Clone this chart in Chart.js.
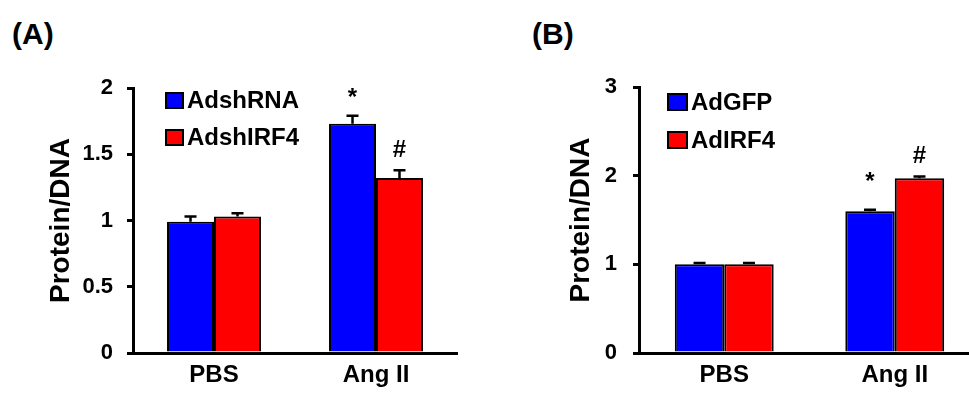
<!DOCTYPE html>
<html>
<head>
<meta charset="utf-8">
<script src="https://cdn.jsdelivr.net/npm/chart.js@4"></script>
<style>
  html, body { margin: 0; padding: 0; background: #fff; overflow: hidden; }
  body { width: 969px; height: 393px; position: relative; }
  .panel { position: absolute; top: 0; height: 393px; }
  .tag { position: absolute; top: 17px; font: bold 30px "Liberation Sans", Arial, sans-serif; color: #000; }
</style>
</head>
<body>
<div class="tag" style="left:12px">(A)</div>
<div class="tag" style="left:532px">(B)</div>
<div class="panel" style="left:0;width:480px"><canvas id="chartA"></canvas></div>
<div class="panel" style="left:480px;width:500px"><canvas id="chartB"></canvas></div>
<script>
const categories = ['PBS', 'Ang II'];

// panel A
const seriesA = ['AdshRNA', 'AdshIRF4'];
const blueA = [0.99, 1.73];
const redA = [1.03, 1.32];
const blueErrA = [0.04, 0.06];
const redErrA = [0.025, 0.06];
const blueMarksA = ['', '*'];
const redMarksA = ['', '#'];
const yMaxA = 2, yStepA = 0.5;

// panel B
const seriesB = ['AdGFP', 'AdIRF4'];
const blueB = [1.0, 1.6];
const redB = [1.0, 1.97];
const blueErrB = [0.015, 0.015];
const redErrB = [0.015, 0.02];
const blueMarksB = ['', '*'];
const redMarksB = ['', '#'];
const yMaxB = 3, yStepB = 1;

const FONT = '"Liberation Sans", Arial, sans-serif';
const BLUE = '#0000ff', RED = '#ff0000';

// error bars + significance marks
const errPlugin = {
  id: 'errbars',
  afterDatasetsDraw(chart, args, opts) {
    const ctx = chart.ctx;
    const y = chart.scales.y;
    chart.data.datasets.forEach((ds, i) => {
      const meta = chart.getDatasetMeta(i);
      meta.data.forEach((bar, j) => {
        const top = y.getPixelForValue(ds.data[j] + opts.errors[i][j]);
        ctx.save();
        ctx.strokeStyle = '#000';
        ctx.lineWidth = 2.5;
        ctx.beginPath();
        ctx.moveTo(bar.x, bar.y);
        ctx.lineTo(bar.x, top);
        ctx.moveTo(bar.x - 6, top);
        ctx.lineTo(bar.x + 6, top);
        ctx.stroke();
        const mark = opts.marks[i][j];
        if (mark) {
          ctx.fillStyle = '#000';
          ctx.font = 'bold 24px ' + FONT;
          ctx.textAlign = 'center';
          ctx.textBaseline = 'alphabetic';
          ctx.fillText(mark, bar.x, top - opts.lift[mark]);
        }
        ctx.restore();
      });
    });
  }
};

// legend inside the plot
const boxLegend = {
  id: 'boxLegend',
  afterDraw(chart, args, opts) {
    const ctx = chart.ctx;
    const a = chart.chartArea;
    chart.data.datasets.forEach((ds, i) => {
      const bx = a.left + opts.x, by = a.top + opts.y + i * opts.gap;
      ctx.save();
      ctx.fillStyle = ds.backgroundColor;
      ctx.fillRect(bx, by, opts.w, opts.h);
      ctx.strokeStyle = '#000';
      ctx.lineWidth = 2;
      ctx.strokeRect(bx, by, opts.w, opts.h);
      ctx.fillStyle = '#000';
      ctx.font = 'bold 24px ' + FONT;
      ctx.textBaseline = 'middle';
      ctx.fillText(ds.label, bx + opts.w + 4, by + opts.h / 2 + 1);
      ctx.restore();
    });
  }
};

function makeChart(id, labels, blue, red, errs, marks, yMax, yStep, pad, yWidth, tickPad, legendPos, lift) {
  return new Chart(document.getElementById(id), {
    type: 'bar',
    data: {
      labels: categories,
      datasets: [
        { label: labels[0], data: blue, backgroundColor: BLUE, borderColor: '#000', borderWidth: 2 },
        { label: labels[1], data: red, backgroundColor: RED, borderColor: '#000', borderWidth: 2 }
      ]
    },
    options: {
      responsive: true,
      maintainAspectRatio: false,
      animation: false,
      categoryPercentage: 0.58,
      barPercentage: 1,
      layout: { padding: pad },
      plugins: {
        legend: { display: false },
        tooltip: { enabled: false },
        errbars: { errors: errs, marks: marks, lift: lift },
        boxLegend: legendPos
      },
      scales: {
        x: {
          grid: { display: false, drawTicks: false },
          border: { color: '#000', width: 3 },
          ticks: { color: '#000', padding: 8, font: { family: FONT, size: 24, weight: 'bold' } },
          afterFit: s => { s.height = 40; }
        },
        y: {
          min: 0, max: yMax,
          ticks: {
            stepSize: yStep, color: '#000', padding: tickPad,
            font: { family: FONT, size: 22, weight: 'bold' },
            callback: v => String(Number(v))
          },
          grid: { drawOnChartArea: false, drawTicks: true, tickLength: 6, color: '#000', lineWidth: 3 },
          border: { color: '#000', width: 3 },
          title: { display: true, text: 'Protein/DNA', color: '#000', padding: 0, font: { family: FONT, size: 28, weight: 'bold' } },
          afterFit: s => { s.width = yWidth; }
        }
      }
    },
    plugins: [errPlugin, boxLegend]
  });
}

makeChart('chartA', seriesA, blueA, redA, [blueErrA, redErrA], [blueMarksA, redMarksA],
  yMaxA, yStepA, { left: 44, top: 88, right: 23, bottom: 0 }, 89, 14,
  { x: 33, y: 5, w: 17, h: 15, gap: 37 }, { '*': 11, '#': 13 });

makeChart('chartB', seriesB, blueB, redB, [blueErrB, redErrB], [blueMarksB, redMarksB],
  yMaxB, yStepB, { left: 84, top: 87, right: 0, bottom: 0 }, 75, 16,
  { x: 29, y: 7, w: 19, h: 16, gap: 38 }, { '*': 21, '#': 14 });
</script>
</body>
</html>
